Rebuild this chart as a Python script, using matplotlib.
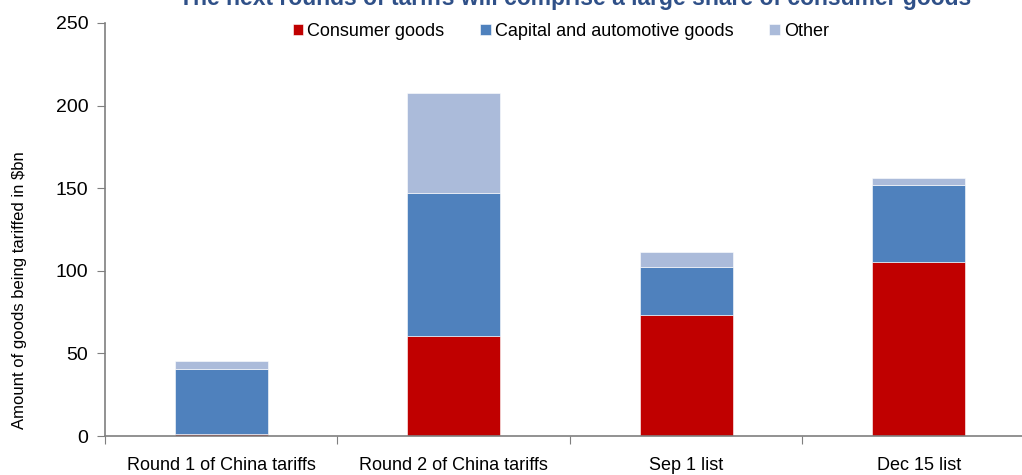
import matplotlib.pyplot as plt
import numpy as np

plt.rcParams['font.family'] = ['Liberation Sans', 'DejaVu Sans']

categories = ['Round 1 of China tariffs', 'Round 2 of China tariffs', 'Sep 1 list', 'Dec 15 list']
consumer = [1, 60.5, 73, 105.5]
capital = [39.5, 86.5, 29.5, 46.5]
other = [5, 60.5, 9, 4]

series_names = ['Consumer goods', 'Capital and automotive goods', 'Other']
colors = ['#C00000', '#4F81BD', '#ABBBDA']

fig = plt.figure(figsize=(10.22, 4.75), dpi=100)
ax = fig.add_axes([0.1027, 0.0821, 0.91, 0.8695])

x = np.arange(len(categories))
bottom = np.zeros(len(categories))
for vals, name, col in zip([consumer, capital, other], series_names, colors):
    ax.bar(x, vals, width=0.4, bottom=bottom, color=col, label=name,
           edgecolor='white', linewidth=0.4)
    bottom += np.array(vals)

ax.set_xlim(-0.5, 3.5)
ax.set_ylim(0, 250)
ax.set_yticks(range(0, 251, 50))
ax.tick_params(axis='y', labelsize=14, length=6, color='#7f7f7f', pad=6)

# category boundaries get tick marks, labels sit at bar centres
ax.set_xticks(np.arange(-0.5, 3.6, 1))
ax.set_xticklabels([])
ax.set_xticks(x, minor=True)
ax.set_xticklabels(categories, minor=True, fontsize=13)
ax.tick_params(axis='x', which='major', length=6, color='#7f7f7f')
ax.tick_params(axis='x', which='minor', length=0, pad=15)

for s in ['top', 'right']:
    ax.spines[s].set_visible(False)
for s in ['left', 'bottom']:
    ax.spines[s].set_color('#7f7f7f')
    ax.spines[s].set_linewidth(1.2)

ax.set_ylabel('Amount of goods being tariffed in $bn', fontsize=12)
ax.yaxis.set_label_coords(-0.084, 0.353)

ax.legend(loc='upper center', bbox_to_anchor=(0.49, 1.04), ncol=3, frameon=False,
          fontsize=13, handlelength=0.6, handleheight=0.6, handletextpad=0.2,
          columnspacing=2.0)

fig.text(0.563, 1.003, 'The next rounds of tariffs will comprise a large share of consumer goods',
         ha='center', va='center', fontsize=16.5, fontweight='bold', color='#2F5088')

fig.savefig('out.png', dpi=100)
